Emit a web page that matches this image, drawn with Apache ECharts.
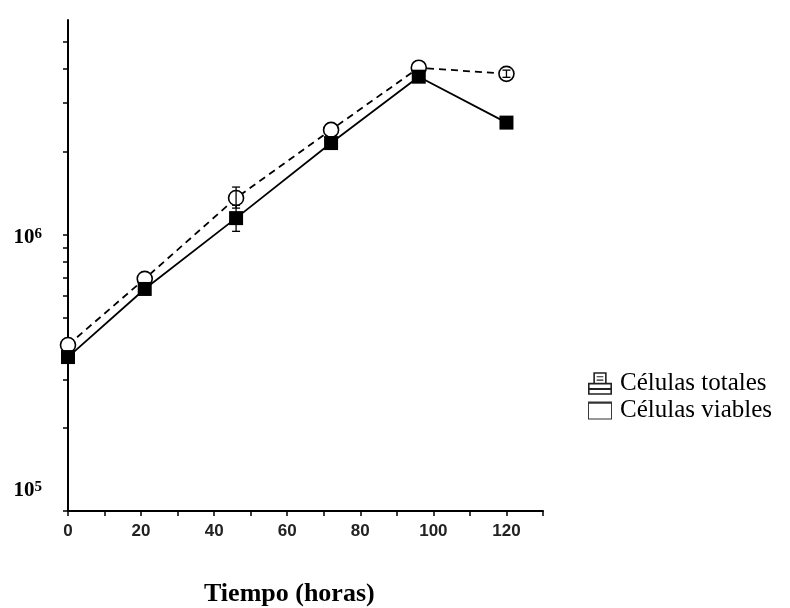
<!DOCTYPE html>
<html>
<head>
<meta charset="utf-8">
<script src="https://cdn.jsdelivr.net/npm/echarts@6/dist/echarts.min.js"></script>
<style>html,body{margin:0;padding:0;background:#fff}#c{width:790px;height:608px}</style>
</head>
<body>
<div id="c"></div>
<script>
// ---- data ----
const hours = [0, 21, 46, 72, 96, 120];
const totales = [3.61e5, 6.37e5, 1.15e6, 2.15e6, 3.74e6, 2.55e6];   // filled squares, solid line
const viables = [3.99e5, 6.93e5, 1.36e6, 2.40e6, 4.03e6, 3.83e6];   // open circles, dashed line
const totalesLow  = [null, null, 1.03e6, null, null, null];
const totalesHigh = [null, null, 1.28e6, null, null, null];
const viablesLow  = [null, null, 1.25e6, null, null, 3.72e6];
const viablesHigh = [null, null, 1.49e6, null, null, 3.95e6];
const xLabelValues = [0, 20, 40, 60, 80, 100, 120];
const xTickValues = [0, 10, 20, 30, 40, 50, 60, 70, 80, 90, 100, 110, 120, 130];
const yLabelValues = [1e5, 1e6];
const yTickValues = [1e5, 2e5, 3e5, 4e5, 5e5, 6e5, 7e5, 8e5, 9e5, 1e6, 2e6, 3e6, 4e6, 5e6];
const seriesNames = ['Células totales', 'Células viables'];
const xTitle = 'Tiempo (horas)';

const pair = (xs, ys) => xs.map((x, i) => [x, ys[i]]);
const errData = (lo, hi) => hours.map((h, i) => [h, lo[i], hi[i]]).filter(d => d[1] != null);

function errRender(params, api) {
  const x = api.value(0);
  const p1 = api.coord([x, api.value(1)]);
  const p2 = api.coord([x, api.value(2)]);
  const w = 4, st = {stroke: '#000', lineWidth: 1.3};
  return {type: 'group', children: [
    {type: 'line', shape: {x1: p1[0], y1: p1[1], x2: p2[0], y2: p2[1]}, style: st},
    {type: 'line', shape: {x1: p1[0]-w, y1: p1[1], x2: p1[0]+w, y2: p1[1]}, style: st},
    {type: 'line', shape: {x1: p2[0]-w, y1: p2[1], x2: p2[0]+w, y2: p2[1]}, style: st}
  ]};
}

const serif = '"Liberation Serif", "Times New Roman", serif';
const printerIcon = 'path://M5 0h10v1.2h-10zM5 0h1.2v8.5h-1.2zM13.8 0h1.2v8.5h-1.2zM7.5 3h5v0.9h-5zM7.5 5.5h5v0.9h-5zM1 8h18v1.2h-18zM1 8h1.2v9h-1.2zM17.8 8h1.2v9h-1.2zM1 15.8h18v1.2h-18zM1 11.8h18v1.6h-18z';
const windowIcon = 'path://M0 0h20v1.8h-20zM0 0h0.8v15h-0.8zM19.2 0h0.8v15h-0.8zM0 14.2h20v0.8h-20z';

const chart = echarts.init(document.getElementById('c'), null, {renderer: 'canvas'});
chart.setOption({
  backgroundColor: '#fff',
  animation: false,
  title: {
    text: xTitle, left: 204, top: 581, padding: 0,
    textStyle: {fontFamily: serif, fontWeight: 'bold', fontSize: 26, color: '#000'}
  },
  legend: {
    orient: 'vertical', left: 588, top: 371, padding: 0, itemGap: 2,
    itemWidth: 24, itemHeight: 23,
    textStyle: {fontFamily: serif, fontSize: 25, color: '#000', padding: [0, 0, 0, 3]},
    data: [
      {name: seriesNames[0], icon: printerIcon, itemStyle: {color: '#222', borderWidth: 0}},
      {name: seriesNames[1], icon: windowIcon, itemStyle: {color: '#333', borderWidth: 0}}
    ]
  },
  grid: {left: 68, right: 247, top: 20, bottom: 97},
  xAxis: {
    type: 'value', min: 0, max: 130,
    axisLine: {show: true, lineStyle: {color: '#000', width: 2}},
    axisTick: {show: true, customValues: xTickValues, length: 5, lineStyle: {color: '#000', width: 1.5}},
    axisLabel: {customValues: xLabelValues, margin: 12, fontFamily: '"Liberation Sans", Arial, sans-serif', fontWeight: 'bold', fontSize: 17, color: '#222'},
    splitLine: {show: false}
  },
  yAxis: {
    type: 'log', logBase: 10, min: 1e5, max: 6e6,
    axisLine: {show: true, lineStyle: {color: '#000', width: 2}},
    axisTick: {show: true, customValues: yTickValues, length: 5, lineStyle: {color: '#000', width: 1.5}},
    axisLabel: {
      customValues: yLabelValues, margin: 26,
      formatter: v => {
        const e = Math.round(Math.log10(v));
        return e === 5 ? '{b|10}{s|' + e + '}\n{gap| }' : '{pad| }\n{b|10}{s|' + e + '}';
      },
      rich: {
        b: {fontFamily: serif, fontWeight: 'bold', fontSize: 21, color: '#000', lineHeight: 22},
        s: {fontFamily: serif, fontWeight: 'bold', fontSize: 15, color: '#000', verticalAlign: 'top', lineHeight: 14},
        gap: {fontSize: 10, lineHeight: 40},
        pad: {fontSize: 4, lineHeight: 6}
      }
    },
    splitLine: {show: false}
  },
  series: [
    {
      name: seriesNames[1], type: 'line', data: pair(hours, viables), z: 2, clip: false,
      symbol: 'circle', symbolSize: 15,
      lineStyle: {color: '#000', width: 1.8, type: [7, 5]},
      itemStyle: {color: '#fff', borderColor: '#000', borderWidth: 1.6}
    },
    {
      name: seriesNames[1] + ' err', type: 'custom', renderItem: errRender, z: 3,
      data: errData(viablesLow, viablesHigh), encode: {x: 0, y: [1, 2]}, silent: true
    },
    {
      name: seriesNames[0] + ' err', type: 'custom', renderItem: errRender, z: 3,
      data: errData(totalesLow, totalesHigh), encode: {x: 0, y: [1, 2]}, silent: true
    },
    {
      name: seriesNames[0], type: 'line', data: pair(hours, totales), z: 4, clip: false,
      symbol: 'rect', symbolSize: 14,
      lineStyle: {color: '#000', width: 1.8},
      itemStyle: {color: '#000', borderColor: '#000', borderWidth: 0}
    }
  ]
});
</script>
</body>
</html>
